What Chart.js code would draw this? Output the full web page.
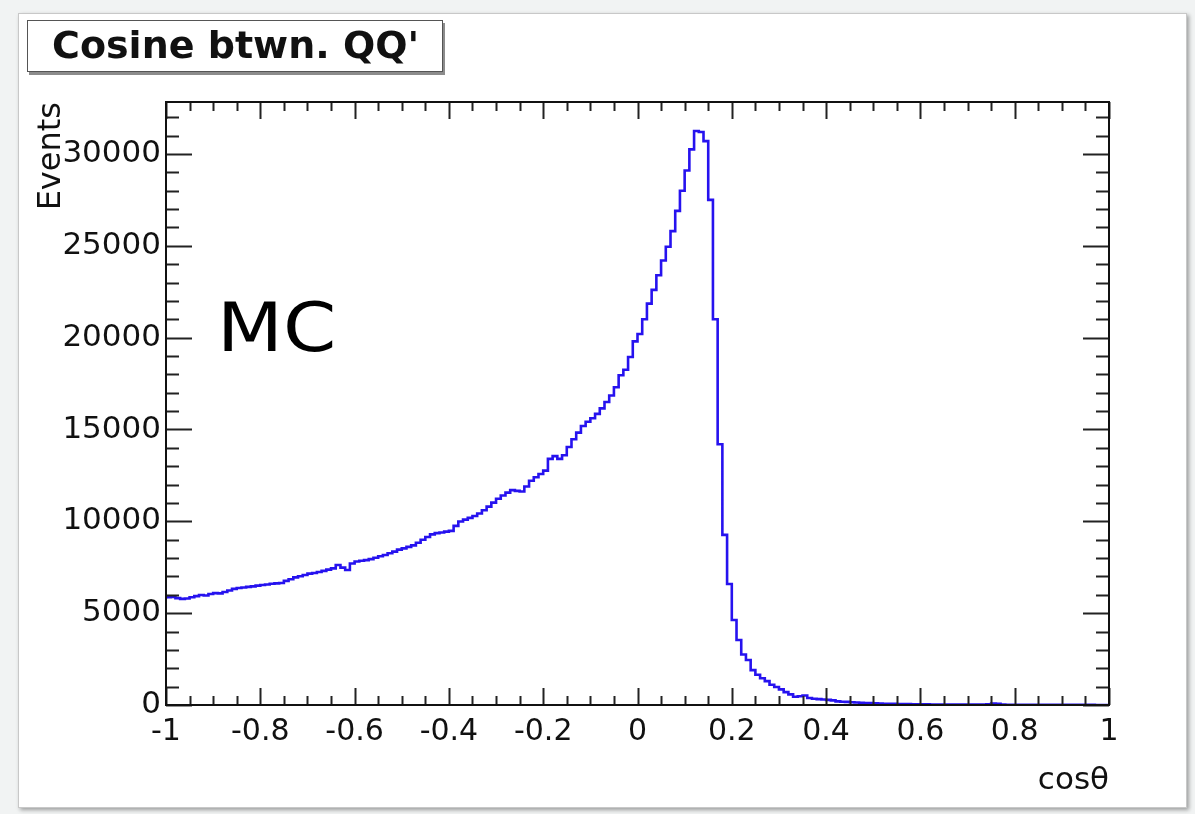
<!DOCTYPE html>
<html>
<head>
<meta charset="utf-8">
<script src="https://cdn.jsdelivr.net/npm/chart.js@4.4.1/dist/chart.umd.min.js"></script>
<style>
  html, body { margin:0; padding:0; width:1195px; height:814px; overflow:hidden; background:#f1f3f3; font-family:"DejaVu Sans", "Liberation Sans", Arial, sans-serif; }
  #panel { position:absolute; left:18px; top:13px; width:1167px; height:793px; background:#ffffff; border:1px solid #c8c8c8; box-shadow:2px 2px 4px rgba(0,0,0,0.35); }
  #chartWrap { position:absolute; left:0; top:0; width:1195px; height:814px; }
  #title { position:absolute; left:27px; top:20px; width:416px; height:52px; box-sizing:border-box; background:#fff; border:1.5px solid #555; box-shadow:2px 3px 0 #8c8c8c; font-weight:bold; font-size:38px; line-height:49px; padding-left:24px; color:#111; white-space:nowrap; }
  #mc { position:absolute; left:217px; top:293px; font-size:67px; line-height:70px; color:#000; white-space:nowrap; transform:scaleX(1.14); transform-origin:0 0; }
</style>
</head>
<body>
<div id="panel"></div>
<div id="chartWrap"><canvas id="c" width="1195" height="814"></canvas></div>
<div id="title">Cosine btwn. QQ'</div>
<div id="mc">MC</div>
<script>
// ---- data (200 bins from -1 to 1) ----
const xRange = [-1, 1];
const events = [
  5780,5870,5880,5820,5780,5800,5870,5930,5990,5960,
  6040,6090,6080,6150,6230,6320,6370,6400,6430,6460,
  6500,6530,6560,6600,6620,6640,6760,6850,6950,7010,
  7080,7150,7190,7240,7300,7370,7440,7620,7480,7350,
  7700,7810,7850,7890,7940,8020,8100,8170,8260,8350,
  8460,8530,8610,8690,8830,9000,9150,9290,9360,9390,
  9440,9480,9750,9990,10090,10190,10290,10430,10600,10800,
  11020,11230,11410,11560,11700,11660,11620,11900,12210,12400,
  12580,12760,13400,13550,13400,13600,14050,14470,14830,15190,
  15420,15610,15850,16150,16500,16850,17300,17950,18250,18950,
  19800,20200,21000,21850,22600,23400,24200,24950,25800,26900,
  28000,29100,30250,31250,31200,30700,27500,21000,14200,9260,
  6590,4630,3540,2750,2450,1900,1650,1460,1300,1100,
  980,850,700,580,450,480,520,380,340,320,
  300,280,250,200,180,170,150,140,120,110,
  100,90,80,70,60,60,50,50,45,40,
  40,35,35,30,30,30,25,25,25,20,
  20,20,20,25,30,40,80,60,20,15,
  15,15,12,12,10,10,10,10,8,8,
  8,8,6,6,6,5,5,5,4,4
];
const yMax = 32830;
const xTickLabels = [-1, -0.8, -0.6, -0.4, -0.2, 0, 0.2, 0.4, 0.6, 0.8, 1];
const yTickLabels = [0, 5000, 10000, 15000, 20000, 25000, 30000];
const xMinorStep = 0.05, yMinorStep = 1000;
const titleText = "Cosine btwn. QQ'";
const xTitle = "cos\u03B8";
const yTitle = "Events";

// build step points at bin low edges (+ final edge)
const binW = (xRange[1] - xRange[0]) / events.length;
const points = events.map((v, i) => ({ x: xRange[0] + i * binW, y: v }));
points.push({ x: xRange[1], y: events[events.length - 1] });

const fontFam = '"DejaVu Sans", "Liberation Sans", Arial, sans-serif';

const rootFrame = {
  id: 'rootFrame',
  afterDatasetsDraw(chart) {
    const { ctx, chartArea: a, scales: { x, y } } = chart;
    ctx.save();
    ctx.strokeStyle = '#222';
    ctx.lineWidth = 2;
    ctx.beginPath();
    const nx = Math.round((xRange[1] - xRange[0]) / xMinorStep);
    for (let i = 0; i <= nx; i++) {
      const v = xRange[0] + i * xMinorStep;
      const isMajor = xTickLabels.some(t => Math.abs(t - v) < 1e-9);
      const px = Math.round(x.getPixelForValue(v)) + 0.5;
      const len = isMajor ? 17 : 9;
      ctx.moveTo(px, a.bottom); ctx.lineTo(px, a.bottom - len);
      ctx.moveTo(px, a.top); ctx.lineTo(px, a.top + len);
    }
    for (let i = 0; i * yMinorStep <= yMax; i++) {
      const v = i * yMinorStep;
      const isMajor = yTickLabels.includes(v);
      const py = Math.round(y.getPixelForValue(v)) + 0.5;
      const len = isMajor ? 26 : 13;
      ctx.moveTo(a.left, py); ctx.lineTo(a.left + len, py);
      ctx.moveTo(a.right, py); ctx.lineTo(a.right - len, py);
    }
    ctx.stroke();
    ctx.strokeStyle = '#111';
    ctx.strokeRect(a.left, a.top, a.right - a.left, a.bottom - a.top);
    ctx.restore();
  }
};

new Chart(document.getElementById('c'), {
  type: 'line',
  data: {
    datasets: [{
      label: titleText,
      data: points,
      stepped: 'after',
      borderColor: '#2612ef',
      borderWidth: 2.6,
      pointRadius: 0,
      fill: false,
      tension: 0
    }]
  },
  options: {
    responsive: false,
    animation: false,
    devicePixelRatio: 1,
    layout: { padding: { left: 0, top: 102, right: 86, bottom: 0 } },
    plugins: { legend: { display: false }, tooltip: { enabled: false }, title: { display: false } },
    scales: {
      x: {
        type: 'linear',
        min: xRange[0], max: xRange[1],
        grid: { display: false, drawTicks: false },
        border: { display: false },
        afterBuildTicks: (s) => { s.ticks = xTickLabels.map(v => ({ value: v })); },
        ticks: {
          padding: 9,
          color: '#111',
          font: { family: fontFam, size: 30 },
          maxRotation: 0,
          autoSkip: false,
          callback: (v) => String(v)
        },
        title: { display: true, text: xTitle, align: 'end', color: '#111', font: { family: fontFam, size: 31 }, padding: { top: 0, bottom: 14 } },
        afterFit: (s) => { s.height = 109; }
      },
      y: {
        type: 'linear',
        min: 0, max: yMax,
        grid: { display: false, drawTicks: false },
        border: { display: false },
        afterBuildTicks: (s) => { s.ticks = yTickLabels.map(v => ({ value: v })); },
        ticks: {
          padding: 5,
          color: '#111',
          autoSkip: false,
          font: { family: fontFam, size: 31 },
          callback: (v) => String(v)
        },
        title: { display: true, text: yTitle, align: 'end', color: '#111', font: { family: fontFam, size: 32 }, padding: { top: 32, bottom: 0 } },
        afterFit: (s) => { s.width = 166; }
      }
    }
  },
  plugins: [rootFrame]
});
</script>
</body>
</html>
